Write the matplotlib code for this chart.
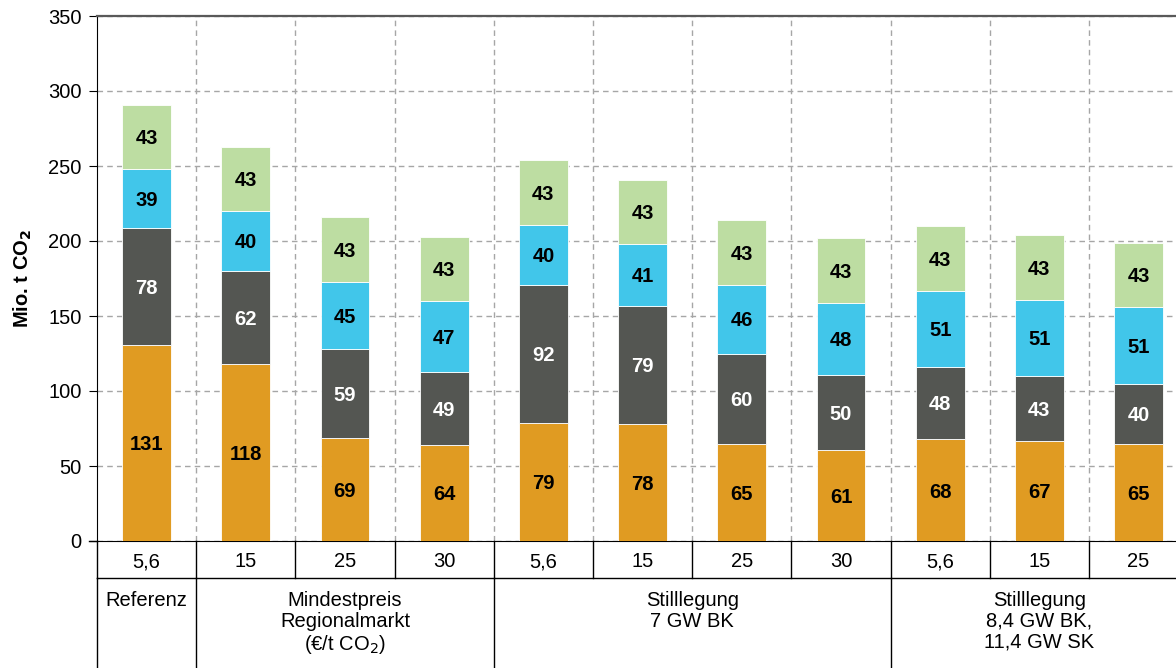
import matplotlib
matplotlib.use('Agg')
import matplotlib.pyplot as plt
import numpy as np
from matplotlib.transforms import blended_transform_factory

plt.rcParams['font.family'] = ['Liberation Sans', 'DejaVu Sans']

# data (Mio. t CO2)
preise = ['5,6', '15', '25', '30', '5,6', '15', '25', '30', '5,6', '15', '25']
seg_orange = [131, 118, 69, 64, 79, 78, 65, 61, 68, 67, 65]
seg_grau = [78, 62, 59, 49, 92, 79, 60, 50, 48, 43, 40]
seg_blau = [39, 40, 45, 47, 40, 41, 46, 48, 51, 51, 51]
seg_gruen = [43, 43, 43, 43, 43, 43, 43, 43, 43, 43, 43]
gruppen = ['Referenz', 'Mindestpreis\nRegionalmarkt\n(€/t CO$_2$)', 'Stilllegung\n7 GW BK',
           'Stilllegung\n8,4 GW BK,\n11,4 GW SK']
gruppen_grenzen = [0, 1, 4, 8, 11]

farben = ['#E09B22', '#545652', '#41C6EA', '#BDDDA2']
textfarben = ['black', 'white', 'black', 'black']

fig = plt.figure(figsize=(11.76, 6.68), dpi=100)
ax = fig.add_axes([97/1176, 127/668, 1 - 97/1176, 525/668])

x = np.arange(len(preise))
bottom = np.zeros(len(preise))
for seg, fc, tc in zip([seg_orange, seg_grau, seg_blau, seg_gruen], farben, textfarben):
    seg = np.array(seg, dtype=float)
    ax.bar(x, seg, 0.49, bottom=bottom, color=fc, edgecolor='white', linewidth=0.6, zorder=3)
    for xi, b, v in zip(x, bottom, seg):
        ax.text(xi, b + v/2, str(int(v)), ha='center', va='center_baseline', fontsize=14.5,
                fontweight='bold', color=tc, zorder=4)
    bottom += seg

ax.set_ylim(0, 350)
ax.set_xlim(-0.5, -0.5 + (1176 - 97)/99.2)
ax.set_yticks(range(0, 351, 50))
ax.tick_params(axis='y', labelsize=14.5, length=6, pad=5, direction='out', color='black')
ax.set_xticks([])
ax.yaxis.grid(True, linestyle=(0, (4, 3)), color='#A6A6A6', linewidth=1, zorder=0)
for b in np.arange(0.5, 11, 1):
    ax.axvline(b, linestyle=(0, (4, 3)), color='#A6A6A6', linewidth=1, zorder=0)
ax.spines['right'].set_visible(False)
ax.spines['top'].set_color('#595959')
ax.spines['top'].set_linewidth(1.6)
ax.spines['left'].set_color('black')
ax.spines['bottom'].set_color('black')
ax.set_ylabel('Mio. t CO$_\\mathbf{2}$', fontsize=14.5, fontweight='bold', labelpad=10)

# table below the axis
tr = blended_transform_factory(ax.transData, ax.transAxes)
row1 = -37/525
unten = -127/525
ax.plot([-0.5, 12], [row1, row1], color='black', lw=1, transform=tr, clip_on=False)
ax.plot([-0.58, -0.5], [0, 0], color='black', lw=1, transform=tr, clip_on=False)
for b in np.arange(-0.5, 11, 1):
    ax.plot([b, b], [0, row1], color='black', lw=1, transform=tr, clip_on=False)
for i, p in enumerate(preise):
    ax.text(i, row1/2, p, ha='center', va='center_baseline', fontsize=14.5, transform=tr)
for g, a, e in zip(gruppen, gruppen_grenzen[:-1], gruppen_grenzen[1:]):
    ax.plot([a - 0.5, a - 0.5], [row1, unten], color='black', lw=1, transform=tr, clip_on=False)
    ax.text((a + e - 1)/2, row1 - 13/525, g, ha='center', va='top', fontsize=14.5,
            linespacing=1.12, transform=tr)

fig.savefig('out.png', dpi=100)
